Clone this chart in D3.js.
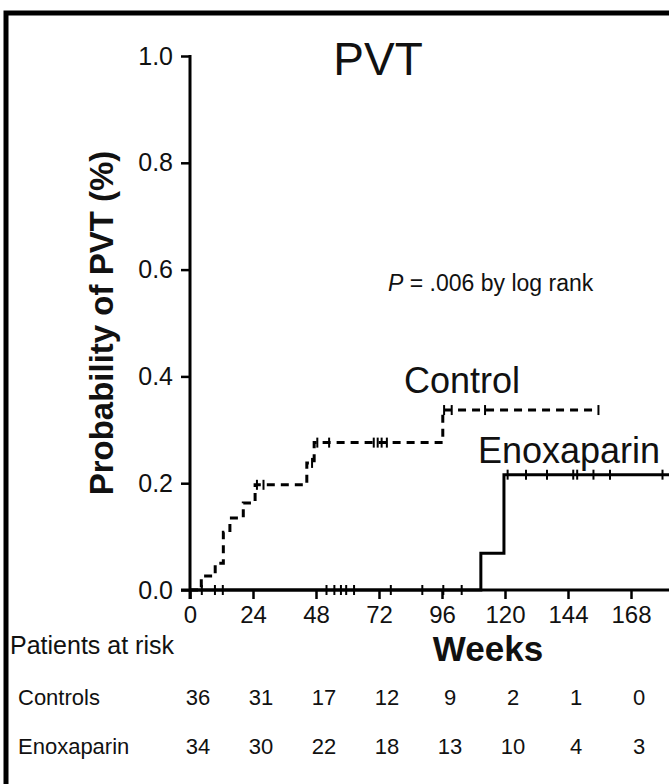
<!DOCTYPE html>
<html>
  <head>
    <meta charset="UTF-8" />
    <title>PVT</title>
    <script src="https://cdn.jsdelivr.net/npm/d3@7"></script>
    <style>
      body {
        margin: 0;
        background: #fff;
      }
      svg text {
        font-family: "Liberation Sans", Arial, sans-serif;
        fill: #111;
      }
    </style>
  </head>
  <body>
    <div class="chart"></div>

    <script>
      // values

      let weekTicks = [0, 24, 48, 72, 96, 120, 144, 168, 192];
      let probTicks = [0, 0.2, 0.4, 0.6, 0.8, 1.0];

      // control group (dashed)
      let controlWeeks = [0, 4.3, 9.6, 12.7, 15.2, 20.3, 24.8, 44.5, 47.3, 96.3, 155.6];
      let controlProb = [0, 0.026, 0.05, 0.108, 0.135, 0.163, 0.197, 0.238, 0.276, 0.337, 0.337];
      let controlCensored = [25.5, 28, 46.5, 48.5, 53, 70, 71.5, 73, 75, 96.8, 99.7, 112.4, 155.6];

      // enoxaparin group (solid)
      let enoxWeeks = [0, 110.8, 119.6, 205];
      let enoxProb = [0, 0.069, 0.216, 0.216];
      let enoxCensored = [
        4.5, 9.5, 12.5, 52, 55, 57.5, 59.5, 62.5, 76.5, 88.5, 96.5, 103.5,
        121, 128, 136, 146, 147.5, 153.7, 160, 180,
      ];

      // patients at risk
      let riskWeeks = [0, 24, 48, 72, 96, 120, 144, 168];
      let controlsAtRisk = [36, 31, 17, 12, 9, 2, 1, 0];
      let enoxAtRisk = [34, 30, 22, 18, 13, 10, 4, 3];

      let width = 669;
      let height = 784;

      let svg = d3
        .select(".chart")
        .append("svg")
        .attr("width", width)
        .attr("height", height);

      // frame
      svg
        .append("rect")
        .attr("x", 6)
        .attr("y", 13)
        .attr("width", width + 20)
        .attr("height", height + 20)
        .attr("fill", "none")
        .attr("stroke", "#000")
        .attr("stroke-width", 5);

      let x = d3.scaleLinear().domain([0, 168]).range([190, 631]);
      let y = d3.scaleLinear().domain([0, 1]).range([590, 56]);

      // axes
      let xAxis = svg
        .append("g")
        .attr("transform", `translate(0,${y(0)})`)
        .call(d3.axisBottom(x).tickValues(weekTicks).tickSize(9).tickPadding(7))
        .call((g) => g.select(".domain").remove());
      xAxis.selectAll("line").attr("stroke", "#000").attr("stroke-width", 2.5);
      xAxis
        .selectAll("text")
        .attr("font-size", 24)
        .attr("font-family", "Liberation Sans, Arial, sans-serif")
        .attr("fill", "#111");

      svg
        .append("line")
        .attr("x1", x(0) - 9)
        .attr("x2", width + 10)
        .attr("y1", y(0))
        .attr("y2", y(0))
        .attr("stroke", "#000")
        .attr("stroke-width", 3);

      let yAxis = svg
        .append("g")
        .attr("transform", `translate(${x(0)},0)`)
        .call(
          d3
            .axisLeft(y)
            .tickValues(probTicks)
            .tickFormat(d3.format(".1f"))
            .tickSize(9)
            .tickPadding(8)
        );
      yAxis.select(".domain").remove();
      yAxis.selectAll("line").attr("stroke", "#000").attr("stroke-width", 2.5);
      yAxis
        .selectAll("text")
        .attr("font-size", 25)
        .attr("font-family", "Liberation Sans, Arial, sans-serif")
        .attr("fill", "#111");

      svg
        .append("line")
        .attr("x1", x(0))
        .attr("x2", x(0))
        .attr("y1", y(1) - 1)
        .attr("y2", y(0) + 9)
        .attr("stroke", "#000")
        .attr("stroke-width", 3);

      // axis titles
      svg
        .append("text")
        .attr("transform", `translate(113,${y(0.5)}) rotate(-90)`)
        .attr("text-anchor", "middle")
        .attr("font-size", 33)
        .attr("font-weight", "bold")
        .text("Probability of PVT (%)");

      svg
        .append("text")
        .attr("x", 488)
        .attr("y", 661)
        .attr("text-anchor", "middle")
        .attr("font-size", 35)
        .attr("font-weight", "bold")
        .text("Weeks");

      svg
        .append("text")
        .attr("x", 378)
        .attr("y", 75)
        .attr("text-anchor", "middle")
        .attr("font-size", 46)
        .text("PVT");

      let pText = svg
        .append("text")
        .attr("x", 388)
        .attr("y", 291)
        .attr("font-size", 23);
      pText.append("tspan").attr("font-style", "italic").text("P");
      pText.append("tspan").text(" = .006 by log rank");

      svg
        .append("text")
        .attr("x", 404)
        .attr("y", 393)
        .attr("font-size", 36)
        .text("Control");

      svg
        .append("text")
        .attr("x", 478)
        .attr("y", 463)
        .attr("font-size", 36)
        .text("Enoxaparin");

      // survival curves
      let line = d3
        .line()
        .curve(d3.curveStepAfter)
        .x((d) => x(d[0]))
        .y((d) => y(d[1]));

      let controlData = d3.zip(controlWeeks, controlProb);
      let enoxData = d3.zip(enoxWeeks, enoxProb);

      svg
        .append("path")
        .datum(controlData)
        .attr("fill", "none")
        .attr("stroke", "#000")
        .attr("stroke-width", 3)
        .attr("stroke-dasharray", "8,6")
        .attr("d", line);

      svg
        .append("path")
        .datum(enoxData)
        .attr("fill", "none")
        .attr("stroke", "#000")
        .attr("stroke-width", 3)
        .attr("d", line);

      function stepValue(weeks, probs, t) {
        let i = d3.bisectRight(weeks, t) - 1;
        return probs[Math.max(i, 0)];
      }

      let marks = controlCensored
        .map((t) => [t, stepValue(controlWeeks, controlProb, t)])
        .concat(enoxCensored.map((t) => [t, stepValue(enoxWeeks, enoxProb, t)]));

      svg
        .append("g")
        .selectAll("line")
        .data(marks)
        .enter()
        .append("line")
        .attr("x1", (d) => x(d[0]))
        .attr("x2", (d) => x(d[0]))
        .attr("y1", (d) => y(d[1]) - 5)
        .attr("y2", (d) => y(d[1]) + 5)
        .attr("stroke", "#000")
        .attr("stroke-width", 2);

      // patients at risk table
      svg
        .append("text")
        .attr("x", 10)
        .attr("y", 654)
        .attr("font-size", 25)
        .text("Patients at risk");

      let rows = [
        { name: "Controls", values: controlsAtRisk, y: 705 },
        { name: "Enoxaparin", values: enoxAtRisk, y: 754 },
      ];

      rows.forEach((row) => {
        svg
          .append("text")
          .attr("x", 18)
          .attr("y", row.y)
          .attr("font-size", 22)
          .text(row.name);

        svg
          .append("g")
          .selectAll("text")
          .data(row.values)
          .enter()
          .append("text")
          .attr("x", (d, i) => x(riskWeeks[i]) + 8)
          .attr("y", row.y)
          .attr("text-anchor", "middle")
          .attr("font-size", 22)
          .text((d) => d);
      });
    </script>
  </body>
</html>
